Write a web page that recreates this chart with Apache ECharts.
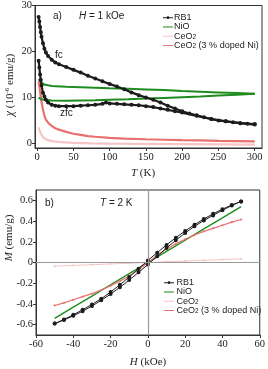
<!DOCTYPE html>
<html><head><meta charset="utf-8">
<script src="https://cdn.jsdelivr.net/npm/echarts@6/dist/echarts.min.js"></script>
<style>html,body{margin:0;padding:0;background:#fff}#c{width:268px;height:369px}</style>
</head><body><div id="c"></div>
<script>
// ---- Data: panel a) chi vs T ----
const rb1Fc = [[2,27.5],[3,26.5],[4,25.3],[5,24.2],[6,23.2],[8,21.8],[10,20.6],[12,19.8],[15,19.0],[20,18.2],[25,17.6],[30,17.2],[40,16.6],[50,16.0],[60,15.4],[70,14.7],[80,14.1],[90,13.5],[100,12.9],[110,12.4],[120,11.8],[130,11.1],[140,10.5],[150,10.0],[160,9.5],[170,8.9],[180,8.2],[190,7.6],[200,7.0],[210,6.5],[220,6.1],[230,5.7],[240,5.3],[250,5.0],[260,4.8],[270,4.6],[280,4.4],[290,4.3],[300,4.2]];
const rb1Zfc = [[2,18.0],[3,16.5],[4,15.0],[5,13.8],[6,12.6],[8,11.0],[10,10.2],[12,9.5],[15,8.9],[20,8.4],[25,8.2],[30,8.1],[40,8.1],[50,8.1],[60,8.2],[70,8.3],[80,8.4],[90,8.6],[95,8.9],[100,8.7],[110,8.6],[120,8.5],[130,8.4],[140,8.3],[150,8.1],[160,7.9],[170,7.6],[180,7.3],[190,7.0],[200,6.7],[220,6.0],[240,5.3],[260,4.8],[280,4.4],[300,4.1]];
const nioUpper = [[2,14.0],[5,13.3],[10,12.8],[20,12.5],[40,12.3],[60,12.2],[80,12.1],[100,12.0],[125,11.9],[150,11.75],[175,11.6],[200,11.4],[225,11.25],[250,11.1],[275,10.95],[300,10.8]];
const nioLower = [[2,10.0],[5,9.6],[10,9.5],[20,9.35],[40,9.3],[60,9.35],[80,9.4],[100,9.5],[125,9.6],[150,9.75],[175,9.9],[200,10.05],[225,10.2],[250,10.4],[275,10.6],[300,10.8]];
const ceo2T = [[2,3.5],[3,3.0],[4,2.6],[5,2.2],[7,1.6],[10,1.1],[15,0.7],[20,0.5],[30,0.3],[50,0.1],[75,0.0],[100,-0.05],[150,-0.1],[200,-0.15],[250,-0.2],[300,-0.25]];
const ceo2NiT = [[2,13.5],[3,12.5],[4,11.3],[5,10.2],[6,9.0],[8,7.3],[10,6.0],[12,5.2],[15,4.5],[20,3.8],[25,3.3],[30,3.0],[40,2.5],[50,2.1],[60,1.85],[70,1.6],[80,1.45],[100,1.2],[120,1.05],[150,0.9],[175,0.8],[200,0.7],[225,0.65],[250,0.55],[275,0.5],[300,0.45]];
const tTicks = [0,50,100,150,200,250,300];
const chiTicks = [0,10,20,30];

// ---- Data: panel b) M vs H ----
const rb1Down = [[50,0.59],[45,0.555],[40,0.515],[35,0.47],[30,0.42],[25,0.365],[20,0.305],[15,0.24],[10,0.17],[5,0.095],[0,0.02],[-5,-0.06],[-10,-0.14],[-15,-0.215],[-20,-0.285],[-25,-0.35],[-30,-0.405],[-35,-0.455],[-40,-0.505],[-45,-0.55],[-50,-0.59]];
const rb1Up = [[-50,-0.59],[-45,-0.555],[-40,-0.515],[-35,-0.47],[-30,-0.42],[-25,-0.365],[-20,-0.305],[-15,-0.24],[-10,-0.17],[-5,-0.095],[0,-0.02],[5,0.06],[10,0.14],[15,0.215],[20,0.285],[25,0.35],[30,0.405],[35,0.455],[40,0.505],[45,0.55],[50,0.59]];
const nioH = [[-50,-0.54],[-40,-0.43],[-30,-0.325],[-20,-0.215],[-10,-0.108],[0,0],[10,0.108],[20,0.215],[30,0.325],[40,0.43],[50,0.54]];
const ceo2H = [[-50,-0.035],[-40,-0.028],[-30,-0.021],[-20,-0.014],[-10,-0.007],[0,0],[10,0.007],[20,0.014],[30,0.021],[40,0.028],[50,0.035]];
const ceo2NiH = [[-50,-0.415],[-45,-0.39],[-40,-0.36],[-35,-0.33],[-30,-0.30],[-25,-0.265],[-20,-0.225],[-15,-0.18],[-10,-0.13],[-5,-0.07],[0,0],[5,0.07],[10,0.13],[15,0.18],[20,0.225],[25,0.265],[30,0.30],[35,0.33],[40,0.36],[45,0.39],[50,0.415]];
const hTicks = [-60,-40,-20,0,20,40,60];
const mTicks = [-0.6,-0.4,-0.2,0,0.2,0.4,0.6];

const names = ['RB1','NiO','CeO2','CeO2 (3 % doped Ni)'];
const C = {rb1:'#1c1c1c', nio:'#1e8c1e', ceo2:'#f6c4c4', ceo2ni:'#e8706e'};
const SERIF = '"Liberation Serif","Times New Roman",serif';
const SANS = '"Liberation Sans",Arial,sans-serif';

const chart = echarts.init(document.getElementById('c'), null, {renderer:'canvas'});

function xAx(grid, min, max, ticks){
  return {gridIndex:grid, type:'value', min:min, max:max,
    axisLine:{show:true, onZero:false, lineStyle:{color:'#333', width:1}},
    axisTick:{show:true, length:3, customValues:ticks, lineStyle:{color:'#333'}},
    axisLabel:{customValues:ticks, fontFamily:SERIF, fontSize:10.5, color:'#222', margin:4},
    splitLine:{show:false}};
}
function yAx(grid, min, max, ticks, fmt){
  return {gridIndex:grid, type:'value', min:min, max:max,
    axisLine:{show:true, onZero:false, lineStyle:{color:'#333', width:1}},
    axisTick:{show:true, length:3, customValues:ticks, lineStyle:{color:'#333'}},
    axisLabel:{customValues:ticks, fontFamily:SERIF, fontSize:10.5, color:'#222', margin:3, formatter:fmt},
    splitLine:{show:false}};
}
// legend icons: thin line (with tiny invisible corner marks to fix the bounding box); RB1 adds a dot
const ICON_LINE = 'path://M0,0L0.01,0L0,0.01Z M0,2L10,2L10,3L0,3Z M10,5L9.99,5L10,4.99Z';
const ICON_DOT = 'path://M0,0L0.01,0L0,0.01Z M0,2L3.8,2L3.8,3L0,3Z M6.2,2L10,2L10,3L6.2,3Z M3.6,2.5A1.4,1.4 0 1,1 6.4,2.5A1.4,1.4 0 1,1 3.6,2.5Z M10,5L9.99,5L10,4.99Z';
const legendRich = {sub:{fontSize:6.5, fontFamily:SANS, color:'#222', verticalAlign:'bottom', padding:[5,0,0,0]}};
function legendFmt(n){ return n.replace('CeO2','CeO{sub|2}'); }
function legendCfg(left, top, w){
  return {orient:'vertical', left:left, top:top, itemWidth:w, itemHeight:5, itemGap:0,
    data:[{name:'RB1', icon:ICON_DOT},{name:'NiO', icon:ICON_LINE},{name:'CeO2', icon:ICON_LINE},{name:'CeO2 (3 % doped Ni)', icon:ICON_LINE}],
    formatter:legendFmt, selectedMode:false,
    itemStyle:{borderWidth:0},
    textStyle:{fontFamily:SANS, fontSize:9, color:'#222', lineHeight:9.3, padding:[0,0,0,-4], rich:legendRich}};
}

const lineS = (name, data, x, y, color, w, sym, symSize) => ({
  name:name, type:'line', xAxisIndex:x, yAxisIndex:y, data:data,
  symbol: sym || 'none', symbolSize: symSize || 2, showSymbol: !!sym,
  lineStyle:{color:color, width:w}, itemStyle:{color:color, borderColor:color, borderWidth:0.7},
  silent:true, animation:false, z: 3
});

chart.setOption({
  animation:false,
  grid:[
    {left:35, right:6, top:5, height:143, show:true, borderColor:'#333', borderWidth:1, containLabel:false},
    {left:36, right:8, top:190, height:145, show:true, borderColor:'#333', borderWidth:1, containLabel:false}
  ],
  xAxis:[ xAx(0,-3,310,tTicks), xAx(1,-60,60,hTicks) ],
  yAxis:[ yAx(0,-1,30,chiTicks), yAx(1,-0.7,0.7,mTicks, v=> (Math.abs(v)<1e-9?'0':v.toFixed(1))) ],
  legend:[ legendCfg(158, 8, 10), legendCfg(159, 273, 13) ],
  series:[
    lineS('CeO2', ceo2T, 0,0, C.ceo2, 2.2),
    lineS('CeO2 (3 % doped Ni)', ceo2NiT, 0,0, C.ceo2ni, 2.2),
    lineS('NiO', nioUpper, 0,0, C.nio, 2),
    lineS('NiO', nioLower, 0,0, C.nio, 2),
    lineS('RB1', rb1Zfc, 0,0, C.rb1, 2.2, 'emptyCircle', 2),
    lineS('RB1', rb1Fc, 0,0, C.rb1, 2.2, 'emptyCircle', 2),
    Object.assign(lineS('CeO2', ceo2H, 1,1, C.ceo2, 1, 'circle', 1.6), {
      markLine:{silent:true, symbol:'none', label:{show:false}, animation:false,
        lineStyle:{color:'#999', width:1.2, type:'solid'},
        data:[{xAxis:0},{yAxis:0}]}, z:2}),
    lineS('NiO', nioH, 1,1, C.nio, 1.4),
    lineS('CeO2 (3 % doped Ni)', ceo2NiH, 1,1, C.ceo2ni, 1.2, 'circle', 1.5),
    lineS('RB1', rb1Down, 1,1, C.rb1, 1, 'emptyCircle', 2),
    lineS('RB1', rb1Up, 1,1, C.rb1, 1, 'emptyCircle', 2)
  ],
  graphic:[
    {type:'text', left:53, top:11, style:{text:'a)', font:'10px '+SANS, fill:'#222'}},
    {type:'text', left:79, top:11, style:{text:'{i|H} = 1 kOe', font:'10px '+SANS, fill:'#222', rich:{i:{fontStyle:'italic', fontFamily:SANS, fontSize:10}}}},
    {type:'text', left:55, top:50, style:{text:'fc', font:'10px '+SANS, fill:'#222'}},
    {type:'text', left:60, top:108, style:{text:'zfc', font:'10px '+SANS, fill:'#222'}},
    {type:'text', left:45, top:198, style:{text:'b)', font:'10px '+SANS, fill:'#222'}},
    {type:'text', left:100, top:198, style:{text:'{i|T} = 2 K', font:'10px '+SANS, fill:'#222', rich:{i:{fontStyle:'italic', fontFamily:SANS, fontSize:10}}}},
    {type:'text', x:10, y:85, rotation:Math.PI/2,
      style:{text:'{i|χ} (10{sup|-6} emu/g)', font:'11px '+SERIF, fill:'#222', align:'center', verticalAlign:'middle',
        rich:{i:{fontStyle:'italic', fontFamily:SERIF, fontSize:12, fill:'#222'}, sup:{fontFamily:SERIF, fontSize:7, verticalAlign:'top', padding:[0,0,5,0], fill:'#222'}}}},
    {type:'text', x:143, y:173,
      style:{text:'{i|T} (K)', font:'11px '+SERIF, fill:'#222', align:'center', verticalAlign:'middle',
        rich:{i:{fontStyle:'italic', fontFamily:SERIF, fontSize:11, fill:'#222'}}}},
    {type:'text', x:9, y:238, rotation:Math.PI/2,
      style:{text:'{i|M} (emu/g)', font:'11px '+SERIF, fill:'#222', align:'center', verticalAlign:'middle',
        rich:{i:{fontStyle:'italic', fontFamily:SERIF, fontSize:11, fill:'#222'}}}},
    {type:'text', x:148, y:362,
      style:{text:'{i|H} (kOe)', font:'11px '+SERIF, fill:'#222', align:'center', verticalAlign:'middle',
        rich:{i:{fontStyle:'italic', fontFamily:SERIF, fontSize:11, fill:'#222'}}}}
  ]
});
</script></body></html>
